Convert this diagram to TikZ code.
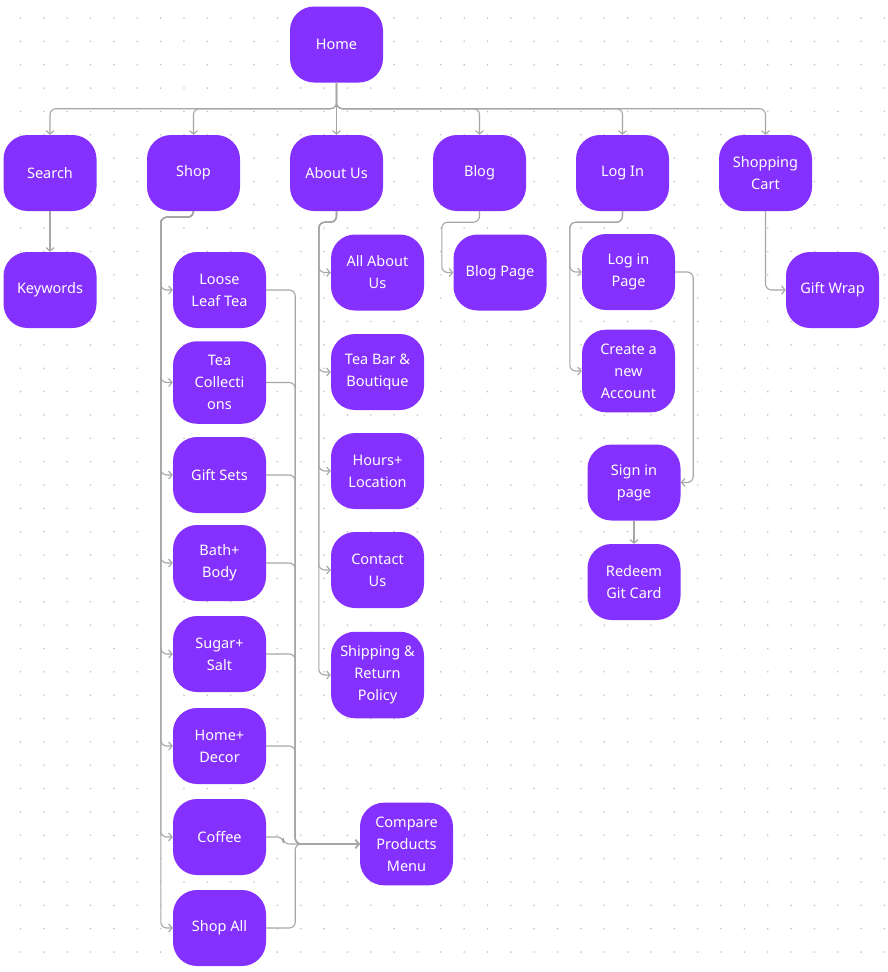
\documentclass[tikz,border=0pt]{standalone}
\usepackage{fontspec}
\setmainfont{Noto Sans}
\usetikzlibrary{arrows.meta}
\definecolor{pagefill}{HTML}{8431FF}
\definecolor{linkgray}{HTML}{A6A6A6}
\definecolor{dotgray}{HTML}{C4C4C4}

\begin{document}
\begin{tikzpicture}[x=1pt, y=-1pt, >={Straight Barb[length=3.5pt,width=8pt]},
    page/.style={fill=pagefill, text=white, rounded corners=24pt, align=center,
      minimum width=93pt, minimum height=76pt, inner xsep=4pt, inner ysep=14pt,
      font=\fontsize{14.5}{22}\selectfont},
    link/.style={->, draw=linkgray, line width=1.1pt, rounded corners=6pt}]
  \useasboundingbox[fill=white] (0,0) rectangle (888,972);
  % dotted canvas
  \foreach \i in {0,...,37}{
    \foreach \j in {0,...,40}{
      \fill[dotgray] (20.5+23.35*\i, 18+23.35*\j) circle (0.9pt);
    }
  }

  \node[page] (home) at (336.5,44.5) {Home};
  \foreach \name/\x/\lbl in {search/50/Search, shop/193.5/Shop, about/336.5/About Us,
      blog/479.5/Blog, login/622.5/Log In, cart/765.5/{Shopping\\Cart}}{
    \node[page] (\name) at (\x,173) {\lbl};
  }
  \node[page] (keywords) at (50,290) {Keywords};

  % shop pages
  \foreach \name/\y/\lbl in {loose/290/{Loose\\Leaf Tea}, teacoll/382.5/{Tea\\Collecti\\ons},
      giftsets/475/Gift Sets, bath/563/{Bath+\\Body}, sugar/654/{Sugar+\\Salt},
      homedecor/746/{Home+\\Decor}, coffee/837/Coffee, shopall/928/Shop All}{
    \node[page] (\name) at (219.5,\y) {\lbl};
  }
  \node[page] (compare) at (406.5,844) {Compare\\Products\\Menu};

  % about pages
  \foreach \name/\y/\lbl in {allabout/272.5/{All About\\Us}, teabar/372/{Tea Bar \&\\Boutique},
      hours/471/{Hours+\\Location}, contact/570/{Contact\\Us},
      shipping/675/{Shipping \&\\Return\\Policy}}{
    \node[page] (\name) at (377.5,\y) {\lbl};
  }

  \node[page] (blogpage) at (500,272.5) {Blog Page};
  \node[page] (loginpage) at (628.5,272) {Log in\\Page};
  \node[page] (newaccount) at (628.5,371) {Create a\\new\\Account};
  \node[page] (signin) at (634,482.5) {Sign in\\page};
  \node[page] (redeem) at (634,582) {Redeem\\Git Card};
  \node[page] (giftwrap) at (832.5,290) {Gift Wrap};

  % links
  \foreach \name in {search,shop,blog,login,cart}{
    \draw[link] (home.south) -- ++(0,26) -| (\name.north);
  }
  \draw[link] (home.south) -- (about.north);
  \draw[link] (search.south) -- (keywords.north);
  \foreach \name in {loose,teacoll,giftsets,bath,sugar,homedecor,coffee,shopall}{
    \draw[link] (shop.south) -- ++(0,6) -| ([xshift=-12pt]\name.west) -- (\name.west);
  }
  \foreach \name/\dx in {loose/29,teacoll/29,giftsets/29,bath/29,sugar/29,homedecor/29,coffee/17,shopall/29}{
    \draw[link] (\name.east) -- ++(\dx,0) |- (compare.west);
  }
  \foreach \name in {allabout,teabar,hours,contact,shipping}{
    \draw[link] (about.south) -- ++(0,11) -| ([xshift=-12pt]\name.west) -- (\name.west);
  }
  \draw[link] (blog.south) -- ++(0,11) -| ([xshift=-11.5pt]blogpage.west) -- (blogpage.west);
  \foreach \name in {loginpage,newaccount}{
    \draw[link] (login.south) -- ++(0,11) -| ([xshift=-12pt]\name.west) -- (\name.west);
  }
  \draw[link] (loginpage.east) -- ++(18,0) |- (signin.east);
  \draw[link] (signin.south) -- (redeem.north);
  \draw[link] (cart.south) |- (giftwrap.west);
\end{tikzpicture}
\end{document}
